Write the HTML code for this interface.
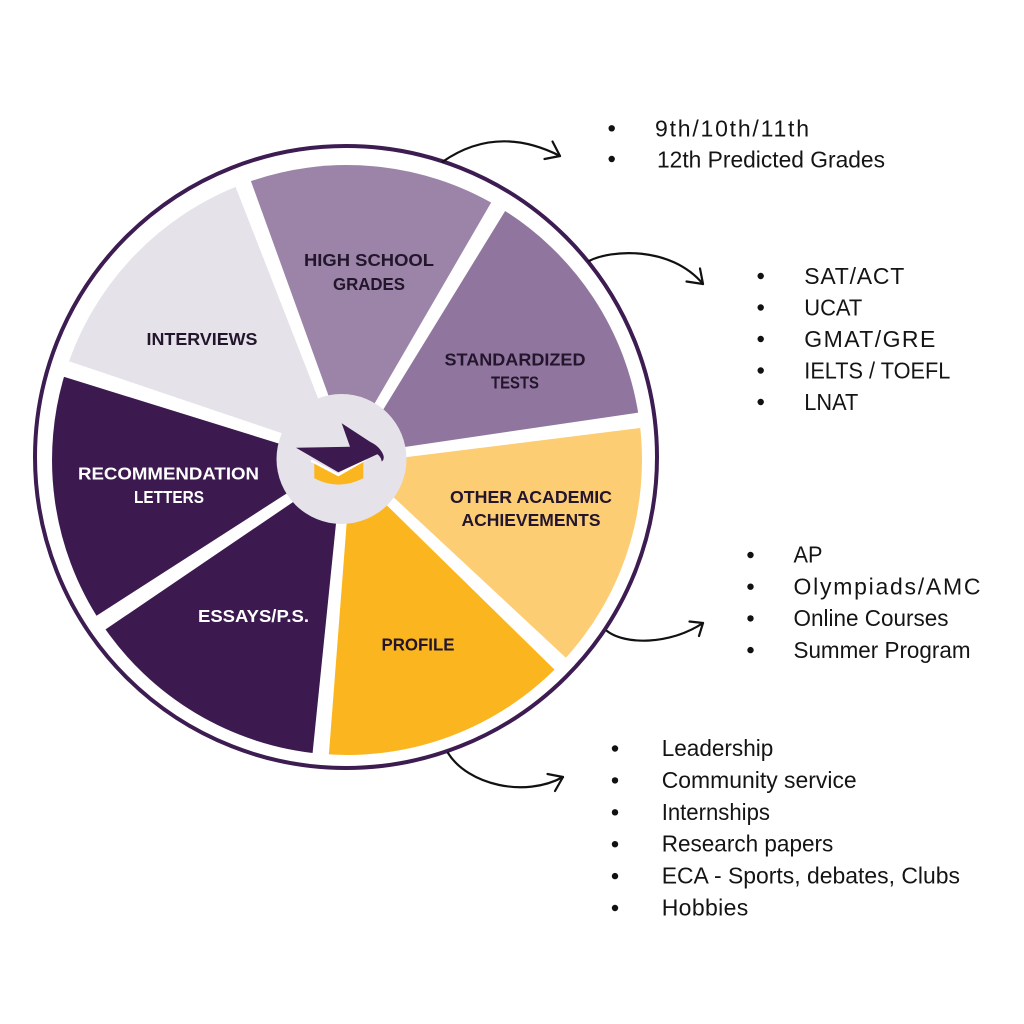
<!DOCTYPE html>
<html>
<head>
<meta charset="utf-8">
<style>
  html, body { margin: 0; padding: 0; background: #ffffff; }
  svg { display: block; }
  .lbl { font-family: "Liberation Sans", Arial, sans-serif; font-weight: bold; font-size: 17.5px; }
  .txt { font-family: "Liberation Sans", Arial, sans-serif; font-size: 23px; fill: #141414; }
</style>
</head>
<body>
<svg width="1024" height="1024" viewBox="0 0 1024 1024" xmlns="http://www.w3.org/2000/svg">
  <rect x="0" y="0" width="1024" height="1024" fill="#ffffff"/>

  <!-- pie wedges -->
  <path d="M347,460 L66.4,369.0 A295,295 0 0 1 243.2,183.9 Z" fill="#e5e2ea"/>
  <path d="M347,460 L243.2,183.9 A295,295 0 0 1 498.2,206.7 Z" fill="#9c84a9"/>
  <path d="M347,460 L498.2,206.7 A295,295 0 0 1 639.3,420.3 Z" fill="#90769e"/>
  <path d="M347,460 L639.3,420.3 A295,295 0 0 1 560.3,663.8 Z" fill="#fdcd74"/>
  <path d="M347,460 L560.3,663.8 A295,295 0 0 1 320.7,753.8 Z" fill="#fbb61f"/>
  <path d="M347,460 L320.7,753.8 A295,295 0 0 1 100.9,622.6 Z" fill="#3c1a50"/>
  <path d="M347,460 L100.9,622.6 A295,295 0 0 1 66.4,369.0 Z" fill="#3c1a50"/>

  <!-- white gaps -->
  <g fill="#ffffff">
    <g transform="translate(347,460) rotate(249.4)"><polygon points="0,-4.5 320,-8.5 320,8.5 0,4.5"/></g>
    <g transform="translate(347,460) rotate(300.83)"><polygon points="0,-4.5 320,-8.5 320,8.5 0,4.5"/></g>
    <g transform="translate(347,460) rotate(352.26)"><polygon points="0,-4.5 320,-8 320,8 0,4.5"/></g>
    <g transform="translate(347,460) rotate(43.69)"><polygon points="0,-4.5 320,-8.5 320,8.5 0,4.5"/></g>
    <g transform="translate(347,460) rotate(95.11)"><polygon points="0,-4.5 320,-8.5 320,8.5 0,4.5"/></g>
    <g transform="translate(347,460) rotate(146.54)"><polygon points="0,-4.5 320,-8.5 320,8.5 0,4.5"/></g>
    <g transform="translate(347,460) rotate(197.97)"><polygon points="0,-4.5 320,-8.5 320,8.5 0,4.5"/></g>
  </g>

  <!-- center circle -->
  <circle cx="341.5" cy="459" r="65" fill="#e5e2ea"/>

  <!-- mortarboard icon -->
  <path d="M314.3,462.8 L338.3,476 L363.3,461.5 L363.3,478.3 Q338.3,491 314.3,478.3 Z" fill="#fbb61f"/>
  <path d="M311,460.5 L338.3,475 L366,459" fill="none" stroke="#ffffff" stroke-width="2.5"/>
  <path d="M296,447.7 L350,446.7 L341.7,423.3 L370,441.7 C376,444.5 381,449 383.3,455 C384.3,458 383.5,460.5 381.7,461.5 C381.3,458.5 379.8,456 377.3,454.3 L338.3,472.3 Z" fill="#3c1a50"/>

  <!-- outer ring -->
  <circle cx="346" cy="457" r="311" fill="none" stroke="#3d1c52" stroke-width="4"/>

  <!-- slice labels -->
  <g class="lbl" text-anchor="middle">
    <text x="369" y="266" textLength="130" lengthAdjust="spacingAndGlyphs" fill="#22152c">HIGH SCHOOL</text>
    <text x="369" y="290" textLength="72" lengthAdjust="spacingAndGlyphs" fill="#22152c">GRADES</text>
    <text x="202" y="345" textLength="111" lengthAdjust="spacingAndGlyphs" fill="#22152c">INTERVIEWS</text>
    <text x="515" y="365.5" textLength="141" lengthAdjust="spacingAndGlyphs" fill="#22152c">STANDARDIZED</text>
    <text x="515" y="388.5" textLength="48" lengthAdjust="spacingAndGlyphs" fill="#22152c">TESTS</text>
    <text x="168.5" y="479.5" textLength="181" lengthAdjust="spacingAndGlyphs" fill="#ffffff">RECOMMENDATION</text>
    <text x="169" y="503" textLength="70" lengthAdjust="spacingAndGlyphs" fill="#ffffff">LETTERS</text>
    <text x="531" y="503" textLength="162" lengthAdjust="spacingAndGlyphs" fill="#22152c">OTHER ACADEMIC</text>
    <text x="531" y="526" textLength="139" lengthAdjust="spacingAndGlyphs" fill="#22152c">ACHIEVEMENTS</text>
    <text x="253.5" y="622" textLength="111" lengthAdjust="spacingAndGlyphs" fill="#ffffff">ESSAYS/P.S.</text>
    <text x="418" y="650.5" textLength="73" lengthAdjust="spacingAndGlyphs" fill="#22152c">PROFILE</text>
  </g>

  <!-- arrows -->
  <g fill="none" stroke="#111111" stroke-width="2.2" stroke-linecap="round" stroke-linejoin="round">
    <path d="M442.7,161.7 Q497,124 560,156"/>
    <path d="M552.5,141.5 L560,156 L544.5,159"/>
    <path d="M589,261 C610,250 670,245 703,284"/>
    <path d="M700,268.5 L703,284 L686.5,281.5"/>
    <path d="M607,631 C625,645 670,645 703,623"/>
    <path d="M689.5,621.5 L703,623 L699,636"/>
    <path d="M448,753 C468,785 525,798 563,777"/>
    <path d="M547.5,774 L563,777 L555,791"/>
  </g>

  <!-- bullets -->
  <g fill="#111111">
    <circle cx="611.7" cy="128.3" r="3.2"/>
    <circle cx="611.7" cy="159" r="3.2"/>

    <circle cx="760.7" cy="276" r="3.2"/>
    <circle cx="760.7" cy="307.5" r="3.2"/>
    <circle cx="760.7" cy="339" r="3.2"/>
    <circle cx="760.7" cy="370.5" r="3.2"/>
    <circle cx="760.7" cy="402" r="3.2"/>

    <circle cx="750.5" cy="555" r="3.2"/>
    <circle cx="750.5" cy="586.7" r="3.2"/>
    <circle cx="750.5" cy="618.4" r="3.2"/>
    <circle cx="750.5" cy="650.1" r="3.2"/>

    <circle cx="615" cy="748.5" r="3.2"/>
    <circle cx="615" cy="780.4" r="3.2"/>
    <circle cx="615" cy="812.3" r="3.2"/>
    <circle cx="615" cy="844.2" r="3.2"/>
    <circle cx="615" cy="876.1" r="3.2"/>
    <circle cx="615" cy="908" r="3.2"/>
  </g>

  <!-- right-side text -->
  <g class="txt">
    <text x="655" y="136.3" textLength="154" lengthAdjust="spacing">9th/10th/11th</text>
    <text x="657" y="167.5" textLength="228" lengthAdjust="spacingAndGlyphs">12th Predicted Grades</text>

    <text x="804.3" y="283.8" textLength="100" lengthAdjust="spacing">SAT/ACT</text>
    <text x="804.3" y="315.3" textLength="58" lengthAdjust="spacingAndGlyphs">UCAT</text>
    <text x="804.3" y="346.8" textLength="131" lengthAdjust="spacing">GMAT/GRE</text>
    <text x="804.3" y="378.3" textLength="146" lengthAdjust="spacingAndGlyphs">IELTS / TOEFL</text>
    <text x="804.3" y="409.8" textLength="54" lengthAdjust="spacingAndGlyphs">LNAT</text>

    <text x="793.5" y="562.7" textLength="29" lengthAdjust="spacingAndGlyphs">AP</text>
    <text x="793.5" y="594.4" textLength="187" lengthAdjust="spacing">Olympiads/AMC</text>
    <text x="793.5" y="626.1" textLength="155" lengthAdjust="spacingAndGlyphs">Online Courses</text>
    <text x="793.5" y="657.8" textLength="177" lengthAdjust="spacingAndGlyphs">Summer Program</text>

    <text x="661.7" y="756" textLength="111.6" lengthAdjust="spacingAndGlyphs">Leadership</text>
    <text x="661.7" y="787.9" textLength="195" lengthAdjust="spacingAndGlyphs">Community service</text>
    <text x="661.7" y="819.8" textLength="108.3" lengthAdjust="spacingAndGlyphs">Internships</text>
    <text x="661.7" y="851.7" textLength="171.6" lengthAdjust="spacingAndGlyphs">Research papers</text>
    <text x="661.7" y="883.6" textLength="298.3" lengthAdjust="spacingAndGlyphs">ECA - Sports, debates, Clubs</text>
    <text x="661.7" y="915.5" textLength="86.6" lengthAdjust="spacing">Hobbies</text>
  </g>
</svg>
</body>
</html>
